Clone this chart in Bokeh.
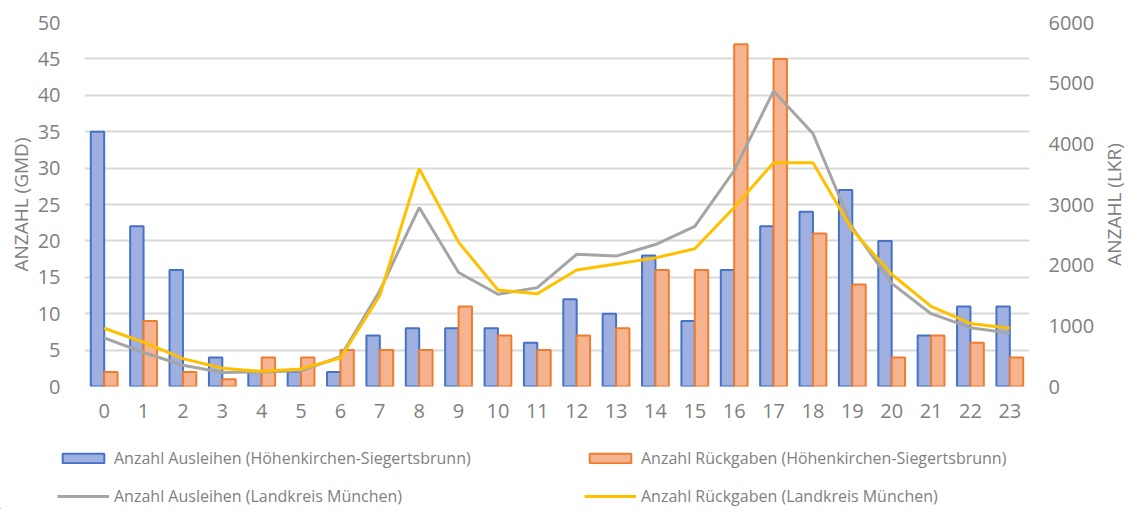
import math
from bokeh.plotting import figure
from bokeh.layouts import column, row
from bokeh.models import (Range1d, LinearAxis, FactorRange, Legend, LegendItem,
                          FixedTicker, ColumnDataSource)
from bokeh.transform import dodge
from bokeh.embed import file_html
from bokeh.resources import INLINE

hours = [str(h) for h in range(24)]
ausleihen_hks = [35, 22, 16, 4, 2, 2, 2, 7, 8, 8, 8, 6, 12, 10, 18, 9, 16, 22, 24, 27, 20, 7, 11, 11]
rueckgaben_hks = [2, 9, 2, 1, 4, 4, 5, 5, 5, 11, 7, 5, 7, 8, 16, 16, 47, 45, 21, 14, 4, 7, 6, 4]
ausleihen_lkr = [800, 560, 350, 230, 240, 260, 490, 1580, 2950, 1880, 1520, 1630, 2180, 2150,
                 2340, 2640, 3560, 4870, 4170, 2620, 1700, 1200, 970, 880]
rueckgaben_lkr = [960, 730, 460, 300, 250, 290, 470, 1500, 3590, 2380, 1590, 1530, 1920, 2020,
                  2120, 2270, 2950, 3690, 3690, 2580, 1850, 1320, 1040, 960]
series_labels = ["Anzahl Ausleihen (Höhenkirchen-Siegertsbrunn)",
                 "Anzahl Rückgaben (Höhenkirchen-Siegertsbrunn)",
                 "Anzahl Ausleihen (Landkreis München)",
                 "Anzahl Rückgaben (Landkreis München)"]

left_ticks = list(range(0, 51, 5))
right_ticks = list(range(0, 6001, 1000))

src = ColumnDataSource(dict(hour=hours, a=ausleihen_hks, r=rueckgaben_hks,
                            al=ausleihen_lkr, rl=rueckgaben_lkr))

FONT = "Open Sans"
GRAY = "#7f7f7f"
BLUE_FILL, BLUE_LINE = "#9fb0e0", "#4472c4"
ORANGE_FILL, ORANGE_LINE = "#f5b48f", "#ed7d31"
GRAY_LINE, YELLOW_LINE = "#a5a5a5", "#ffc000"

W_MAIN, W_TITLE, H_MAIN, H_LEG = 1097, 30, 440, 69


def style_axis(ax):
    ax.axis_line_color = None
    ax.major_tick_line_color = None
    ax.minor_tick_line_color = None
    ax.major_tick_out = 0
    ax.major_tick_in = 0
    ax.minor_tick_out = 0
    ax.minor_tick_in = 0
    ax.major_label_text_color = GRAY
    ax.major_label_text_font = FONT
    ax.major_label_text_font_size = "20px"
    ax.axis_label_text_color = GRAY
    ax.axis_label_text_font = FONT
    ax.axis_label_text_font_size = "19px"
    ax.axis_label_text_font_style = "normal"


p = figure(x_range=FactorRange(*hours), y_range=Range1d(0, 50),
           width=W_MAIN, height=H_MAIN, output_backend="svg", toolbar_location=None,
           min_border_left=84, min_border_right=65, min_border_top=22,
           min_border_bottom=54)
p.extra_y_ranges = {"lkr": Range1d(0, 6000)}
p.outline_line_color = None

p.vbar(x=dodge("hour", -0.17, range=p.x_range), top="a", width=0.34, source=src,
       fill_color=BLUE_FILL, line_color=BLUE_LINE, line_width=2)
p.vbar(x=dodge("hour", 0.17, range=p.x_range), top="r", width=0.34, source=src,
       fill_color=ORANGE_FILL, line_color=ORANGE_LINE, line_width=2)
p.line(x="hour", y="al", source=src, y_range_name="lkr", line_color=GRAY_LINE, line_width=3)
p.line(x="hour", y="rl", source=src, y_range_name="lkr", line_color=YELLOW_LINE, line_width=3)

p.yaxis.ticker = FixedTicker(ticks=left_ticks)
p.ygrid.ticker = FixedTicker(ticks=left_ticks)
p.ygrid.grid_line_color = "#d9d9d9"
p.ygrid.grid_line_width = 2
p.xgrid.grid_line_color = None

ax_r = LinearAxis(y_range_name="lkr", ticker=FixedTicker(ticks=right_ticks))
p.add_layout(ax_r, "right")

p.yaxis[0].axis_label = "ANZAHL (GMD)"
for ax in [p.xaxis[0], p.yaxis[0], ax_r]:
    style_axis(ax)

p.xaxis.major_label_standoff = 17
p.yaxis[0].major_label_standoff = 24
p.yaxis[0].axis_label_standoff = 1
ax_r.major_label_standoff = 19

# right axis title: a narrow figure whose left axis carries only the title
pt = figure(width=W_TITLE, height=H_MAIN, output_backend="svg", toolbar_location=None,
            x_range=Range1d(0, 1), y_range=Range1d(0, 1), x_axis_type=None,
            min_border_left=28, min_border_right=0, min_border_top=22, min_border_bottom=54)
pt.outline_line_color = None
pt.xgrid.grid_line_color = None
pt.ygrid.grid_line_color = None
pt.yaxis.ticker = FixedTicker(ticks=[])
style_axis(pt.yaxis[0])
pt.yaxis.major_label_standoff = 0
pt.yaxis.axis_label = "ANZAHL (LKR)"
pt.yaxis.axis_label_standoff = 0

# legend figure
pl = figure(width=W_MAIN, height=H_LEG, output_backend="svg", toolbar_location=None,
            x_range=Range1d(0, 1), y_range=Range1d(0, 1),
            x_axis_type=None, y_axis_type=None,
            min_border_left=0, min_border_right=0, min_border_top=0, min_border_bottom=0)
pl.outline_line_color = None
pl.xgrid.grid_line_color = None
pl.ygrid.grid_line_color = None
e = ColumnDataSource(dict(x=[-100, -99], y=[-100, -100], b=[-101, -101]))
r1 = pl.vbar(x="x", top="y", bottom="b", width=0.1, source=e, fill_color=BLUE_FILL,
             line_color=BLUE_LINE, line_width=2)
r2 = pl.vbar(x="x", top="y", bottom="b", width=0.1, source=e, fill_color=ORANGE_FILL,
             line_color=ORANGE_LINE, line_width=2)
r3 = pl.line(x="x", y="y", source=e, line_color=GRAY_LINE, line_width=3)
r4 = pl.line(x="x", y="y", source=e, line_color=YELLOW_LINE, line_width=3)

legend = Legend(items=[LegendItem(label=lab, renderers=[r])
                       for lab, r in zip(series_labels, [r1, r2, r3, r4])],
                orientation="horizontal", ncols=2, location=(57, 2))
legend.padding = 0
legend.margin = 0
legend.spacing = 16
legend.glyph_width = 52
legend.glyph_height = 12
legend.label_height = 20
legend.label_standoff = 5
legend.label_width = 454
legend.label_text_font = FONT
legend.label_text_font_size = "16px"
legend.label_text_color = GRAY
legend.border_line_color = None
legend.background_fill_alpha = 0
pl.add_layout(legend, "center")

layout = row(column(p, row(pl), spacing=0), pt, spacing=0)
open("out.html", "w").write(file_html(layout, INLINE))
